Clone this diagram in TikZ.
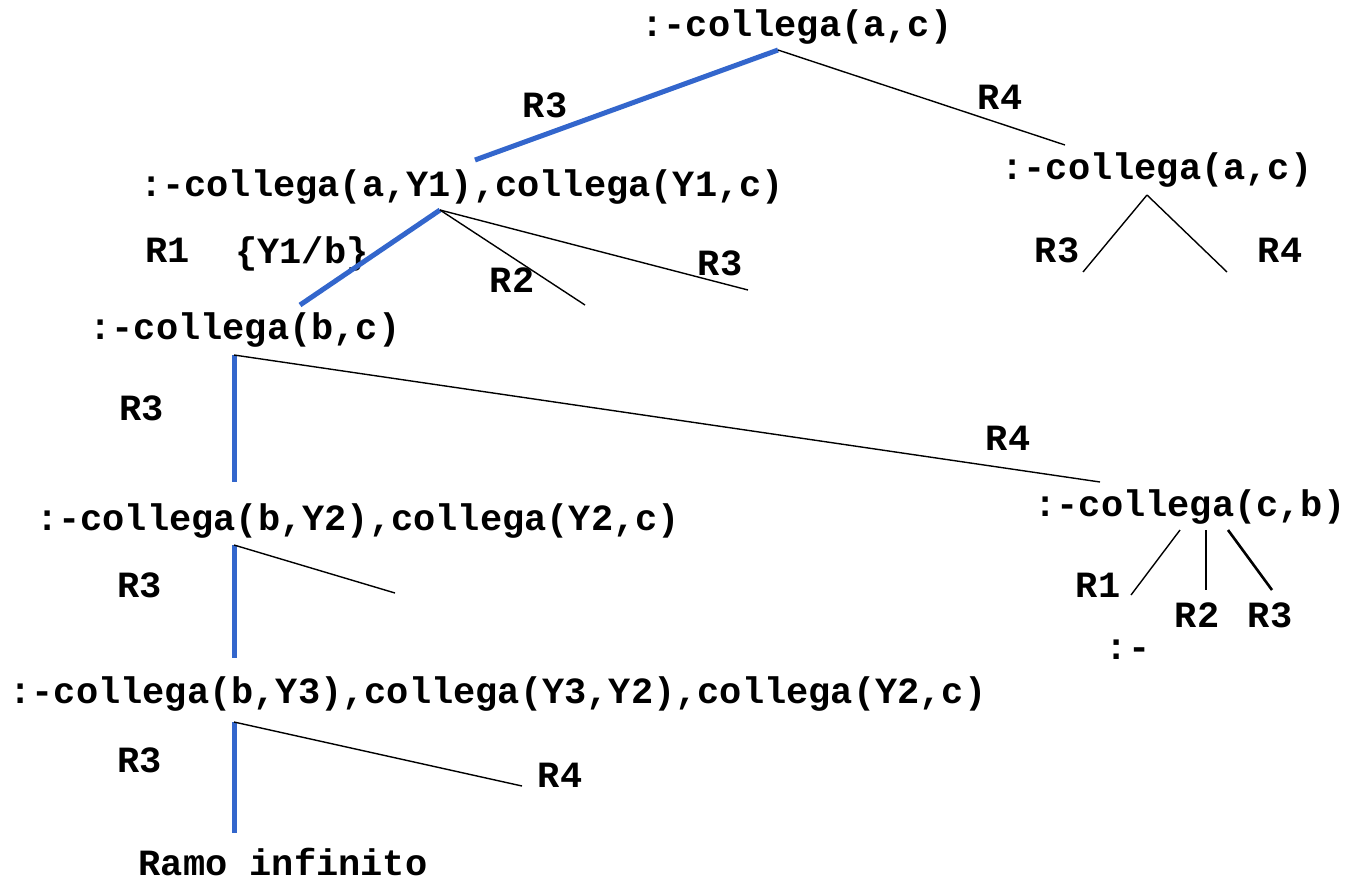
\documentclass[tikz,border=0pt]{standalone}
\usepackage{fontspec}
\setmonofont{Liberation Mono}
\definecolor{pathblue}{RGB}{51,102,204}
\begin{document}
\begin{tikzpicture}[x=1pt,y=-1pt,
    goal/.style={font=\fontsize{37}{40}\selectfont\ttfamily\bfseries,inner sep=0pt,anchor=center},
    blu/.style={line width=5pt,draw=pathblue},
    thn/.style={line width=1.4pt},
    thk/.style={line width=2.6pt}]
    \useasboundingbox (0,0) rectangle (1345,887);
    %% Goals
    \node[goal] (g0) at (797,27) {:-collega(a,c)};
    \node[goal] (g1) at (462,187) {:-collega(a,Y1),collega(Y1,c)};
    \node[goal] (g2) at (1157,170) {:-collega(a,c)};
    \node[goal] (g3) at (245,330) {:-collega(b,c)};
    \node[goal] (g4) at (358,521) {:-collega(b,Y2),collega(Y2,c)};
    \node[goal] (g5) at (1190,507) {:-collega(c,b)};
    \node[goal] (g6) at (498,694) {:-collega(b,Y3),collega(Y3,Y2),collega(Y2,c)};
    \node[goal] (g7) at (1128,650) {:-};
    \node[goal] (inf) at (283,862) {Ramo infinito};
    %% labels
    \node[goal] (l0a) at (545,105) {R3};
    \node[goal] (l0b) at (1000,97) {R4};
    \node[goal] (l1a) at (168,250) {R1};
    \node[goal] (l1s) at (302,254) {\{Y1/b\}};
    \node[goal] (l1b) at (512,280) {R2};
    \node[goal] (l1c) at (720,263) {R3};
    \node[goal] (l2a) at (1057,250) {R3};
    \node[goal] (l2b) at (1280,250) {R4};
    \node[goal] (l3a) at (142,408) {R3};
    \node[goal] (l3b) at (1008,438) {R4};
    \node[goal] (l4a) at (140,585) {R3};
    \node[goal] (l5a) at (1098,585) {R1};
    \node[goal] (l5b) at (1197,615) {R2};
    \node[goal] (l5c) at (1270,615) {R3};
    \node[goal] (l6a) at (140,760) {R3};
    \node[goal] (l6b) at (560,775) {R4};
    %% branch points
    \coordinate (g0b) at (778,50);
    \coordinate (g1t) at (475,160);
    \coordinate (g2t) at (1065,145);
    \coordinate (g1b) at (440,210);
    \coordinate (g3t) at (300,305);
    \coordinate (e1b) at (585,305);
    \coordinate (e1c) at (748,290);
    \coordinate (g2b) at (1147,195);
    \coordinate (e2a) at (1083,272);
    \coordinate (e2b) at (1227,272);
    \coordinate (g3b) at (234,355);
    \coordinate (g4t) at (234,482);
    \coordinate (g5t) at (1100,482);
    \coordinate (g4b) at (234,545);
    \coordinate (g6t) at (234,658);
    \coordinate (e4b) at (395,593);
    \coordinate (g6b) at (234,722);
    \coordinate (inft) at (234,833);
    \coordinate (e6b) at (522,786);
    \coordinate (g5a) at (1180,530);
    \coordinate (g7t) at (1131,595);
    \coordinate (g5m) at (1206,530);
    \coordinate (e5b) at (1206,590);
    \coordinate (g5c) at (1228,530);
    \coordinate (e5c) at (1272,590);
    %% branches
    \draw[blu] (g0b) -- (g1t);
    \draw[thn] (g0b) -- (g2t);
    \draw[blu] (g1b) -- (g3t);
    \draw[thn] (g1b) -- (e1b);
    \draw[thn] (g1b) -- (e1c);
    \draw[thn] (g2b) -- (e2a);
    \draw[thn] (g2b) -- (e2b);
    \draw[blu] (g3b) -- (g4t);
    \draw[thn] (g3b) -- (g5t);
    \draw[blu] (g4b) -- (g6t);
    \draw[thn] (g4b) -- (e4b);
    \draw[blu] (g6b) -- (inft);
    \draw[thn] (g6b) -- (e6b);
    \draw[thn] (g5a) -- (g7t);
    \draw[thk] (g5m) -- (e5b);
    \draw[thk] (g5c) -- (e5c);
\end{tikzpicture}
\end{document}
